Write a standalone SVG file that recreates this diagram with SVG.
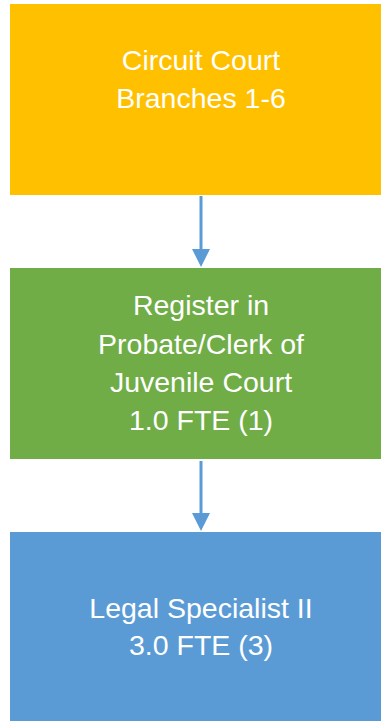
<svg xmlns="http://www.w3.org/2000/svg" width="381" height="721" viewBox="0 0 381 721">
  <defs>
    <style>
      .lbl { font-family: "Liberation Sans", Arial, sans-serif; font-size: 28.5px; fill: #FFFFFF; text-anchor: middle; }
      .conn { stroke: #5B9BD5; stroke-width: 3; fill: none; }
    </style>
    <marker id="arrow" viewBox="0 0 18 18" refX="0" refY="9" markerWidth="18" markerHeight="18" markerUnits="userSpaceOnUse" orient="auto">
      <path d="M0,0 L18,9 L0,18 z" fill="#5B9BD5"/>
    </marker>
  </defs>
  <rect width="381" height="721" fill="#FFFFFF"/>
  <g id="node-circuit-court">
    <rect x="10" y="4" width="383" height="191" fill="#FFC000"/>
    <text class="lbl" x="201" y="70">Circuit Court</text>
    <text class="lbl" x="201" y="108">Branches 1-6</text>
  </g>
  <g id="node-register-probate">
    <rect x="10" y="268" width="383" height="191" fill="#70AD47"/>
    <text class="lbl" x="201" y="315">Register in</text>
    <text class="lbl" x="201" y="353.5">Probate/Clerk of</text>
    <text class="lbl" x="201" y="392">Juvenile Court</text>
    <text class="lbl" x="201" y="430">1.0 FTE (1)</text>
  </g>
  <g id="node-legal-specialist">
    <rect x="10" y="532" width="383" height="191" fill="#5B9BD5"/>
    <text class="lbl" x="201" y="618">Legal Specialist II</text>
    <text class="lbl" x="201" y="655">3.0 FTE (3)</text>
  </g>
  <g id="connectors">
    <line class="conn" x1="201" y1="196" x2="201" y2="249" marker-end="url(#arrow)"/>
    <line class="conn" x1="201" y1="461" x2="201" y2="513" marker-end="url(#arrow)"/>
  </g>
</svg>
